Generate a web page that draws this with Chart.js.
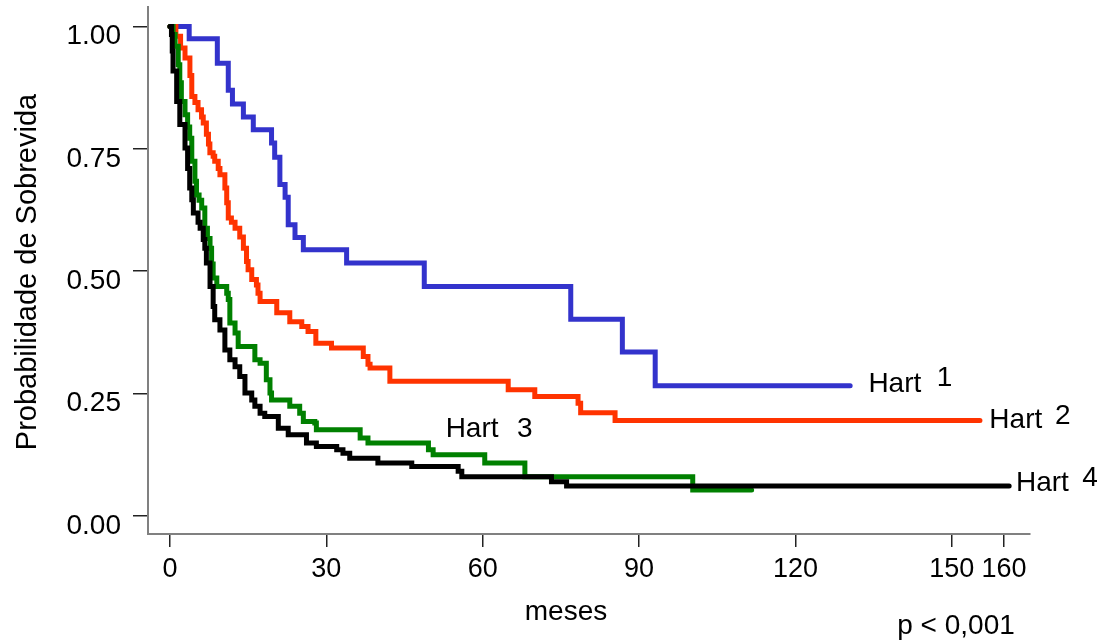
<!DOCTYPE html>
<html><head><meta charset="utf-8">
<script src="https://cdn.jsdelivr.net/npm/chart.js@4.4.1/dist/chart.umd.min.js"></script>
<style>html,body{margin:0;padding:0;background:#fff;overflow:hidden}#wrap{width:1112px;height:643px;position:relative}</style>
</head><body><div id="wrap"><canvas id="c" width="1112" height="643"></canvas></div>
<script>
// ---- data ----
const xTickValues = [0, 30, 60, 90, 120, 150, 160];
const yTickValues = [0, 0.25, 0.5, 0.75, 1];
const seriesNames = ['Hart 1', 'Hart 2', 'Hart 3', 'Hart 4'];

const hart1Months = [0, 3.7, 9.1, 11.2, 12.0, 14.1, 16.0, 19.5, 20.1, 21.1, 22.1, 22.7, 24.0, 25.6, 33.9, 48.8, 76.9, 86.8, 93.1, 130.5];
const hart1Surv   = [1.0, 0.975, 0.925, 0.87, 0.842, 0.815, 0.789, 0.762, 0.733, 0.677, 0.651, 0.595, 0.569, 0.544, 0.517, 0.469, 0.402, 0.335, 0.266, 0.266];

const hart2Months = [0, 1.15, 2.05, 2.9, 3.84, 4.2, 4.8, 5.4, 6.07, 6.4, 7.0, 7.4, 7.67, 8.3, 8.6, 9.27, 9.6, 10.55, 10.9, 11.2, 11.8, 12.5, 13.4, 14.1, 14.7, 15.0, 15.7, 16.6, 16.9, 17.3, 20.5, 23.0, 25.3, 26.5, 28.0, 31.0, 37.1, 38.0, 38.4, 42.2, 64.9, 70.0, 78.3, 78.8, 85.4, 155.4];
const hart2Surv   = [1.0, 0.980, 0.956, 0.936, 0.90, 0.857, 0.845, 0.830, 0.815, 0.803, 0.78, 0.76, 0.742, 0.735, 0.725, 0.71, 0.697, 0.67, 0.64, 0.609, 0.60, 0.588, 0.57, 0.547, 0.52, 0.503, 0.483, 0.472, 0.455, 0.438, 0.415, 0.397, 0.387, 0.377, 0.353, 0.343, 0.326, 0.31, 0.302, 0.275, 0.258, 0.244, 0.230, 0.211, 0.195, 0.195];

const hart3Months = [0, 0.6, 1.0, 1.6, 1.9, 2.2, 2.9, 3.4, 3.8, 4.2, 4.8, 5.1, 5.6, 6.1, 6.7, 7.2, 7.7, 8.0, 8.3, 9.0, 10.9, 11.2, 11.5, 12.5, 13.1, 16.3, 17.3, 18.5, 19.2, 19.5, 23.0, 24.9, 25.6, 27.8, 28.1, 36.5, 38.0, 49.6, 50.5, 60.4, 68.1, 100.3, 111.6];
const hart3Surv   = [1.0, 0.984, 0.96, 0.922, 0.885, 0.847, 0.820, 0.795, 0.772, 0.725, 0.684, 0.656, 0.645, 0.629, 0.588, 0.567, 0.547, 0.515, 0.486, 0.469, 0.455, 0.442, 0.394, 0.374, 0.346, 0.319, 0.312, 0.278, 0.251, 0.237, 0.224, 0.210, 0.193, 0.190, 0.176, 0.159, 0.149, 0.135, 0.125, 0.108, 0.080, 0.053, 0.053];

const hart4Months = [0, 0.3, 0.45, 0.6, 1.3, 1.9, 2.9, 3.4, 3.8, 4.2, 4.5, 5.4, 5.8, 6.4, 6.7, 7.0, 7.7, 8.3, 8.6, 9.6, 10.55, 11.5, 12.5, 13.4, 14.4, 15.7, 16.3, 17.3, 18.2, 20.8, 22.7, 26.2, 28.1, 32.0, 33.2, 34.5, 39.9, 46.4, 55.3, 56.0, 73.2, 76.1, 161];
const hart4Surv   = [1.0, 0.984, 0.95, 0.909, 0.847, 0.800, 0.752, 0.71, 0.670, 0.646, 0.619, 0.60, 0.588, 0.565, 0.547, 0.517, 0.469, 0.428, 0.401, 0.380, 0.339, 0.319, 0.305, 0.285, 0.251, 0.237, 0.224, 0.210, 0.203, 0.179, 0.166, 0.149, 0.142, 0.135, 0.128, 0.118, 0.108, 0.101, 0.091, 0.080, 0.070, 0.061, 0.061];

const FONT = 'Liberation Sans, Arial, sans-serif';
const toPts = (m, s) => m.map((v, i) => ({ x: v, y: s[i] }));

// text annotations in data units (label, superscript digit)
const annotations = [
  { text: 'Hart', x: 134.0, y: 0.254, num: '1', nx: 147.1, ny: 0.266 },
  { text: 'Hart', x: 157.2, y: 0.179, num: '2', nx: 169.8, ny: 0.188 },
  { text: 'Hart', x: 52.9,  y: 0.162, num: '3', nx: 66.6,  ny: 0.162 },
  { text: 'Hart', x: 162.3, y: 0.050, num: '4', nx: 175.0, ny: 0.061 }
];

const textPlugin = {
  id: 'texts',
  afterDraw(chart) {
    const ctx = chart.ctx, xs = chart.scales.x, ys = chart.scales.y;
    ctx.save();
    ctx.fillStyle = '#000';
    ctx.font = '28px ' + FONT;
    ctx.textBaseline = 'alphabetic';
    ctx.textAlign = 'left';
    annotations.forEach(a => {
      ctx.fillText(a.text, xs.getPixelForValue(a.x), ys.getPixelForValue(a.y));
      ctx.fillText(a.num, xs.getPixelForValue(a.nx), ys.getPixelForValue(a.ny));
    });
    ctx.textAlign = 'center';
    ctx.fillText('meses', 566, 620);
    ctx.fillText('p < 0,001', 956, 634);
    ctx.font = '29px ' + FONT;
    ctx.translate(36, 272);
    ctx.rotate(-Math.PI / 2);
    ctx.fillText('Probabilidade de Sobrevida', 0, 0);
    ctx.restore();
  }
};

const ds = (label, m, s, color) => ({
  label, data: toPts(m, s), borderColor: color, backgroundColor: color,
  borderWidth: 5, pointRadius: 0, stepped: true, fill: false, tension: 0,
  borderCapStyle: 'round', borderJoinStyle: 'miter'
});

new Chart(document.getElementById('c'), {
  type: 'line',
  data: {
    datasets: [
      ds(seriesNames[3], hart4Months, hart4Surv, '#000000'),
      ds(seriesNames[2], hart3Months, hart3Surv, '#008000'),
      ds(seriesNames[1], hart2Months, hart2Surv, '#FF3300'),
      ds(seriesNames[0], hart1Months, hart1Surv, '#3333CC')
    ]
  },
  options: {
    responsive: false, animation: false, devicePixelRatio: 1,
    layout: { padding: { left: 0, right: 82, top: 7, bottom: 0 } },
    plugins: { legend: { display: false }, tooltip: { enabled: false } },
    scales: {
      x: {
        type: 'linear', min: -4.2, max: 165,
        afterBuildTicks: s => { s.ticks = xTickValues.map(v => ({ value: v })); },
        afterFit: s => { s.height = 109; s.paddingLeft = 0; s.paddingRight = 0; },
        grid: { display: true, drawOnChartArea: false, drawTicks: true, tickLength: 13, color: '#222', lineWidth: 1.5 },
        border: { display: true, color: '#808080', width: 2 },
        ticks: { autoSkip: false, maxRotation: 0, color: '#000', padding: 6,
                 font: { family: FONT, size: 27 }, callback: v => String(v) }
      },
      y: {
        type: 'linear', min: -0.037, max: 1.04,
        afterBuildTicks: s => { s.ticks = yTickValues.map(v => ({ value: v })); },
        afterFit: s => { s.width = 148; s.paddingTop = 0; s.paddingBottom = 0; },
        grid: { display: true, drawOnChartArea: false, drawTicks: true, tickLength: 15, color: '#222', lineWidth: 1.5 },
        border: { display: true, color: '#808080', width: 2 },
        ticks: { color: '#000', padding: 12, labelOffset: 10,
                 font: { family: FONT, size: 28 }, callback: v => Number(v).toFixed(2) }
      }
    }
  },
  plugins: [textPlugin]
});
</script>
</body></html>
